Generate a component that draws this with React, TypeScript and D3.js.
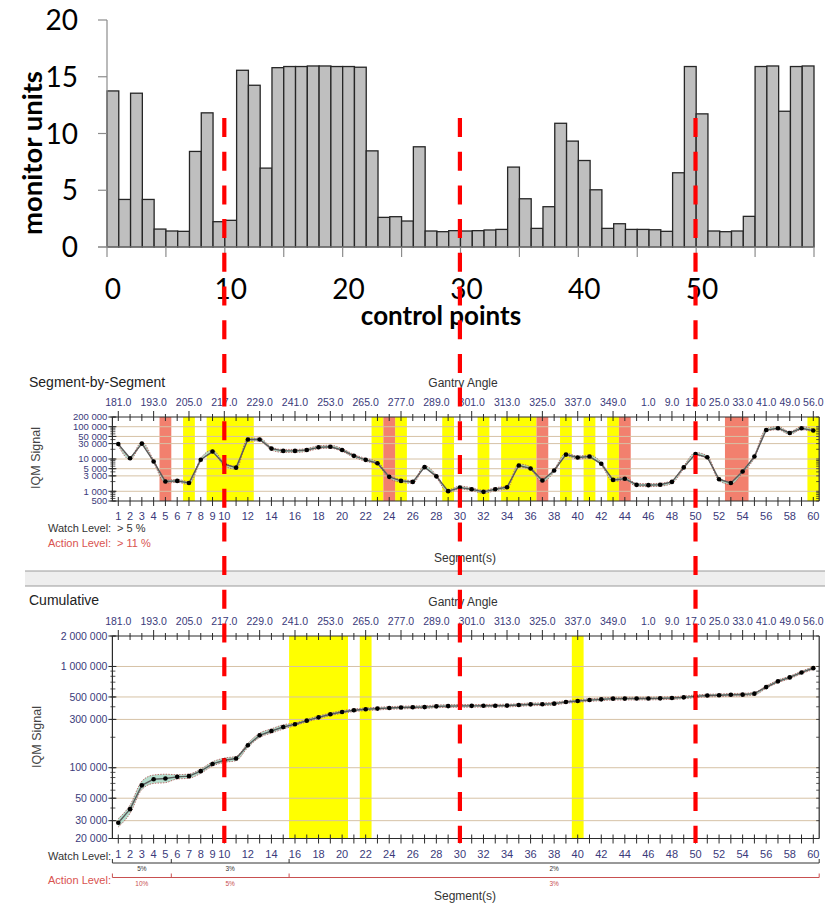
import React from "react";
import * as d3 from "d3";

// ---------- DATA ----------
// top chart: monitor units per control point (0..59)
const muValues = [
  13.75, 4.19, 13.55, 4.19, 1.58, 1.41, 1.38, 8.42, 11.82, 2.23,
  2.35, 15.57, 14.25, 6.95, 15.8, 15.9, 15.9, 15.95, 15.95, 15.9,
  15.9, 15.84, 8.47, 2.61, 2.67, 2.29, 8.83, 1.41, 1.35, 1.44,
  1.41, 1.44, 1.5, 1.55, 7.04, 4.25, 1.64, 3.55, 10.9, 9.33,
  7.62, 5.04, 1.64, 2.05, 1.55, 1.55, 1.52, 1.38, 6.54, 15.9,
  11.73, 1.41, 1.35, 1.41, 2.7, 15.9, 15.95, 11.96, 15.9, 15.95,
];
const topYTicks = [0, 5, 10, 15, 20];
const topXLabels = [0, 10, 20, 30, 40, 50];

// segment-by-segment IQM signal (segments 1..60)
const segSignal = [
  29000, 10500, 30000, 8400, 2000, 2100, 1800, 9500, 17000, 6900,
  5400, 40000, 40000, 21000, 17800, 17800, 19000, 23000, 24000, 19000,
  12500, 9400, 7400, 2800, 2100, 1950, 5600, 2900, 1010, 1300,
  1160, 960, 1160, 1340, 6300, 5100, 2150, 4400, 13700, 11100,
  11900, 7100, 2250, 2450, 1580, 1550, 1600, 1950, 5500, 14300,
  11300, 2350, 1800, 4100, 11900, 79000, 90000, 64000, 90000, 76000,
];
// cumulative IQM signal (segments 1..60)
const cumSignal = [
  28600, 39000, 67000, 77000, 78400, 81300, 82600, 92500, 109000, 118600,
  123300, 166800, 209000, 230700, 252700, 268600, 291800, 314500, 337000, 354900,
  369000, 377600, 383700, 389000, 392900, 395600, 397000, 404000, 406000, 408000,
  408500, 409000, 410000, 411000, 416000, 422600, 424000, 429500, 445600, 456000,
  465800, 473300, 480900, 481500, 482000, 482500, 484400, 488000, 495600, 507000,
  516000, 519000, 525000, 527000, 539000, 626000, 713000, 780000, 873000, 963000,
];

const gantrySegs = [1, 4, 7, 10, 13, 16, 19, 22, 25, 28, 31, 34, 37, 40, 43, 46, 48, 50, 52, 54, 56, 58, 60];
const gantryLabels = ["181.0", "193.0", "205.0", "217.0", "229.0", "241.0", "253.0", "265.0", "277.0", "289.0", "301.0", "313.0", "325.0", "337.0", "349.0", "1.0", "9.0", "17.0", "25.0", "33.0", "41.0", "49.0", "56.0"];
const segLabels = [1, 2, 3, 4, 5, 6, 7, 8, 9, 10, 12, 14, 16, 18, 20, 22, 24, 26, 28, 30, 32, 34, 36, 38, 40, 42, 44, 46, 48, 50, 52, 54, 56, 58, 60];

const midYLabels = [500, 1000, 3000, 5000, 10000, 30000, 50000, 100000, 200000];
const midGrid = [1000, 3000, 5000, 10000, 30000, 50000, 100000];
const cumYLabels = [20000, 30000, 50000, 100000, 300000, 500000, 1000000, 2000000];
const cumGrid = [30000, 50000, 100000, 300000, 500000, 1000000];

// highlight bands [from, to] segment
const midYellow = [[7, 7], [9, 12], [23, 23], [25, 25], [29, 29], [32, 32], [34, 36], [39, 39], [41, 41], [43, 43], [60, 60]];
const midRed = [[5, 5], [24, 24], [37, 37], [44, 44], [53, 54]];
const cumYellow = [[16, 20], [22, 22], [40, 40]];

// cumulative levels
const watchLevels = [{ from: 1, to: 5, label: "5%" }, { from: 6, to: 15, label: "3%" }, { from: 16, to: 60, label: "2%" }];
const actionLevels = [{ from: 1, to: 5, label: "10%", pct: 0.10 }, { from: 6, to: 15, label: "5%", pct: 0.05 }, { from: 16, to: 60, label: "3%", pct: 0.03 }];
const midActionPct = 0.11;

const markerSegs = [10, 30, 50];

// ---------- helpers ----------
const fmt = (v: number) => d3.format(",")(v).replace(/,/g, " ");
const AX = "#2b2b2b";
const LBL = "#3a3a7a";
const GRID = "#d6c2a6";
const YELLOW = "#ffff00";
const SALMON = "#f2806e";
const SANS = "'Liberation Sans', Arial, sans-serif";
const CAL = "Lato, 'Open Sans', sans-serif";

function minorLogTicks(lo: number, hi: number) {
  const out: number[] = [];
  for (let e = Math.floor(Math.log10(lo)); e <= Math.ceil(Math.log10(hi)); e++) {
    for (let m = 1; m <= 9; m++) {
      const v = m * Math.pow(10, e);
      if (v >= lo && v <= hi) out.push(v);
    }
  }
  return out;
}

export default function App() {
  const segs = segSignal.map((_, i) => i + 1);

  // top chart scales
  const barX = d3.scaleLinear().domain([0, 60]).range([107, 814]);
  const barY = d3.scaleLinear().domain([0, 20]).range([247, 20]);

  // lower charts
  const segX = d3.scaleLinear().domain([0.5, 60.5]).range([112.4, 819.2]);
  const midY = d3.scaleLog().domain([500, 200000]).range([501, 417]);
  const cumY = d3.scaleLog().domain([20000, 2000000]).range([838.5, 636]);

  const xL = segX(0.5), xR = segX(60.5);

  const renderPanel = (opts: any) => {
    const { y, top, bot, values, pctFor, yLabels, grid, yellow, red, domain, yFont } = opts;
    const area = d3.area<number>()
      .x((_, i) => segX(segs[i]))
      .y0((v, i) => y(v / (1 + pctFor(segs[i]))))
      .y1((v, i) => y(v * (1 + pctFor(segs[i]))))
      .curve(d3.curveMonotoneX);
    const upper = d3.line<number>().x((_, i) => segX(segs[i])).y((v, i) => y(v * (1 + pctFor(segs[i])))).curve(d3.curveMonotoneX);
    const lower = d3.line<number>().x((_, i) => segX(segs[i])).y((v, i) => y(v / (1 + pctFor(segs[i])))).curve(d3.curveMonotoneX);
    const line = d3.line<number>().x((_, i) => segX(segs[i])).y((v) => y(v));
    const minors = minorLogTicks(domain[0], domain[1]);
    return (
      <g>
        {yellow.map(([a, b]: number[], i: number) => (
          <rect key={"y" + i} x={segX(a - 0.5)} y={top} width={segX(b + 0.5) - segX(a - 0.5)} height={bot - top} fill={YELLOW} />
        ))}
        {red.map(([a, b]: number[], i: number) => (
          <rect key={"r" + i} x={segX(a - 0.5)} y={top} width={segX(b + 0.5) - segX(a - 0.5)} height={bot - top} fill={SALMON} />
        ))}
        {grid.map((g: number) => (
          <line key={"g" + g} x1={xL} x2={xR} y1={y(g)} y2={y(g)} stroke={GRID} strokeWidth={1} />
        ))}
        {/* axes */}
        <line x1={xL} x2={xR} y1={top} y2={top} stroke={AX} strokeWidth={1.2} />
        <line x1={xL} x2={xR} y1={bot} y2={bot} stroke={AX} strokeWidth={1.2} />
        <line x1={xL} x2={xL} y1={top} y2={bot} stroke={AX} strokeWidth={1.2} />
        <line x1={xR} x2={xR} y1={top} y2={bot} stroke={AX} strokeWidth={1.2} />
        {segs.map((s) => (
          <g key={"t" + s}>
            <line x1={segX(s)} x2={segX(s)} y1={top - (gantrySegs.includes(s) ? 6 : 3)} y2={top + 4} stroke={AX} strokeWidth={1} />
            <line x1={segX(s)} x2={segX(s)} y1={bot - 4} y2={bot + 5} stroke={AX} strokeWidth={1} />
          </g>
        ))}
        {minors.map((m) => (
          <g key={"m" + m}>
            <line x1={xL - 2} x2={xL + 3} y1={y(m)} y2={y(m)} stroke={AX} strokeWidth={0.8} />
            <line x1={xR - 3} x2={xR} y1={y(m)} y2={y(m)} stroke={AX} strokeWidth={0.8} />
          </g>
        ))}
        {yLabels.map((v: number) => (
          <g key={"yl" + v}>
            <line x1={xL - 4} x2={xL + 4} y1={y(v)} y2={y(v)} stroke={AX} strokeWidth={1} />
            <text x={xL - 5} y={y(v)} dy="0.35em" textAnchor="end" fontSize={yFont} fill={LBL} fontFamily={SANS}>{fmt(v)}</text>
          </g>
        ))}
        {gantrySegs.map((s, i) => (
          <text key={"ga" + s} x={segX(s)} y={top - 11} textAnchor="middle" fontSize={10.5} fill={LBL} fontFamily={SANS}>{gantryLabels[i]}</text>
        ))}
        {segLabels.map((s) => (
          <text key={"sl" + s} x={segX(s)} y={bot + 19} textAnchor="middle" fontSize={11} fill={LBL} fontFamily={SANS}>{s}</text>
        ))}
        {/* envelope + line */}
        <path d={area(values) || ""} fill="#a8d8c4" opacity={0.85} />
        <path d={upper(values) || ""} fill="none" stroke="#b05050" strokeWidth={0.8} strokeDasharray="1.5 1.2" />
        <path d={lower(values) || ""} fill="none" stroke="#b05050" strokeWidth={0.8} strokeDasharray="1.5 1.2" />
        <path d={line(values) || ""} fill="none" stroke="#5a5a5a" strokeWidth={1.4} />
        {values.map((v: number, i: number) => (
          <circle key={"c" + i} cx={segX(segs[i])} cy={y(v)} r={2.3} fill="#000" />
        ))}
      </g>
    );
  };

  const actionPctFor = (s: number) => {
    const a = actionLevels.find((l) => s >= l.from && s <= l.to);
    return a ? a.pct : 0.03;
  };

  return (
    <svg width={831} height={903} style={{ position: "absolute", left: 0, top: 0, background: "#fff" }}>
      <rect x={0} y={0} width={831} height={903} fill="#fff" />
      {/* ================= TOP BAR CHART ================= */}
      <g>
        {muValues.map((v, i) => (
          <rect key={"b" + i} x={barX(i)} y={barY(v)} width={barX(i + 1) - barX(i)} height={barY(0) - barY(v)} fill="#bfbfbf" stroke="#262626" strokeWidth={1.3} />
        ))}
        <line x1={barX(0)} x2={barX(0)} y1={barY(20)} y2={barY(0)} stroke="#8c8c8c" strokeWidth={1.2} />
        <line x1={barX(0) - 9} x2={barX(60)} y1={barY(0)} y2={barY(0)} stroke="#8c8c8c" strokeWidth={1.2} />
        {topYTicks.map((t) => (
          <g key={"yt" + t}>
            <line x1={barX(0) - 9} x2={barX(0)} y1={barY(t)} y2={barY(t)} stroke="#8c8c8c" strokeWidth={1.2} />
            <text x={78} y={barY(t)} dy="0.36em" textAnchor="end" fontSize={28} fontFamily={CAL} fill="#000">{t}</text>
          </g>
        ))}
        {d3.range(0, 61, 5).map((t) => (
          <line key={"xt" + t} x1={barX(t)} x2={barX(t)} y1={barY(0)} y2={barY(0) + 10} stroke="#8c8c8c" strokeWidth={1.2} />
        ))}
        {topXLabels.map((t) => (
          <text key={"xl" + t} x={barX(t + 0.5)} y={289} dy="0.36em" textAnchor="middle" fontSize={28} fontFamily={CAL} fill="#000">{t}</text>
        ))}
        <text x={441} y={316} dy="0.36em" textAnchor="middle" fontSize={26} fontWeight="bold" fontFamily={CAL} fill="#000">control points</text>
        <text transform="translate(32,153) rotate(-90)" dy="0.36em" textAnchor="middle" fontSize={27.5} fontWeight="bold" fontFamily={CAL} fill="#000">monitor units</text>
      </g>

      {/* ================= SEGMENT-BY-SEGMENT ================= */}
      <text x={29} y={387} fontSize={14} fontFamily={SANS} fill="#222">Segment-by-Segment</text>
      <text x={463} y={387} textAnchor="middle" fontSize={12} fontFamily={SANS} fill="#333">Gantry Angle</text>
      {renderPanel({ y: midY, top: 417, bot: 501, values: segSignal, pctFor: () => midActionPct, yLabels: midYLabels, grid: midGrid, yellow: midYellow, red: midRed, domain: [500, 200000], yFont: 9.5 })}
      <text transform="translate(36,458) rotate(-90)" dy="0.35em" textAnchor="middle" fontSize={12.5} fontFamily={SANS} fill="#444">IQM Signal</text>
      <text x={48} y={532} fontSize={11} fontFamily={SANS} fill="#333">Watch Level:</text>
      <text x={117} y={532} fontSize={11} fontFamily={SANS} fill="#333">&gt; 5 %</text>
      <text x={48} y={547} fontSize={11} fontFamily={SANS} fill="#d9534f">Action Level:</text>
      <text x={117} y={547} fontSize={11} fontFamily={SANS} fill="#d9534f">&gt; 11 %</text>
      <text x={465} y={562} textAnchor="middle" fontSize={12} fontFamily={SANS} fill="#333">Segment(s)</text>

      {/* separator */}
      <rect x={25} y={571} width={800} height={15} fill="#eeeeee" />
      <line x1={25} x2={825} y1={571} y2={571} stroke="#9a9a9a" strokeWidth={1} />
      <line x1={25} x2={825} y1={586} y2={586} stroke="#9a9a9a" strokeWidth={1} />

      {/* ================= CUMULATIVE ================= */}
      <text x={29} y={605} fontSize={14} fontFamily={SANS} fill="#222">Cumulative</text>
      <text x={463} y={606} textAnchor="middle" fontSize={12} fontFamily={SANS} fill="#333">Gantry Angle</text>
      {renderPanel({ y: cumY, top: 636, bot: 838.5, values: cumSignal, pctFor: actionPctFor, yLabels: cumYLabels, grid: cumGrid, yellow: cumYellow, red: [], domain: [20000, 2000000], yFont: 10.5 })}
      <text transform="translate(37,737) rotate(-90)" dy="0.35em" textAnchor="middle" fontSize={12.5} fontFamily={SANS} fill="#444">IQM Signal</text>
      <text x={48} y={860} fontSize={11} fontFamily={SANS} fill="#333">Watch Level:</text>
      <text x={48} y={884} fontSize={11} fontFamily={SANS} fill="#d9534f">Action Level:</text>
      {/* watch brackets */}
      <line x1={xL} x2={xR} y1={863} y2={863} stroke="#333" strokeWidth={1} />
      {watchLevels.map((l) => (
        <g key={"w" + l.from}>
          <line x1={segX(l.from - 0.5)} x2={segX(l.from - 0.5)} y1={859} y2={863} stroke="#333" strokeWidth={1} />
          <text x={(segX(l.from - 0.5) + segX(l.to + 0.5)) / 2} y={870.5} textAnchor="middle" fontSize={6.5} fontFamily={SANS} fill="#333">{l.label}</text>
        </g>
      ))}
      <line x1={xR} x2={xR} y1={859} y2={863} stroke="#333" strokeWidth={1} />
      {/* action brackets */}
      <line x1={xL} x2={xR} y1={877.5} y2={877.5} stroke="#c85050" strokeWidth={1} />
      {actionLevels.map((l) => (
        <g key={"a" + l.from}>
          <line x1={segX(l.from - 0.5)} x2={segX(l.from - 0.5)} y1={873.5} y2={877.5} stroke="#c85050" strokeWidth={1} />
          <text x={(segX(l.from - 0.5) + segX(l.to + 0.5)) / 2} y={886} textAnchor="middle" fontSize={6.5} fontFamily={SANS} fill="#c85050">{l.label}</text>
        </g>
      ))}
      <line x1={xR} x2={xR} y1={873.5} y2={877.5} stroke="#c85050" strokeWidth={1} />
      <text x={465} y={900} textAnchor="middle" fontSize={12} fontFamily={SANS} fill="#333">Segment(s)</text>

      {/* ================= RED MARKERS ================= */}
      {markerSegs.map((s) => (
        <line key={"mk" + s} x1={segX(s)} x2={segX(s)} y1={118} y2={843} stroke="#ff0000" strokeWidth={4.2} strokeDasharray="19 14.7" />
      ))}
    </svg>
  );
}
